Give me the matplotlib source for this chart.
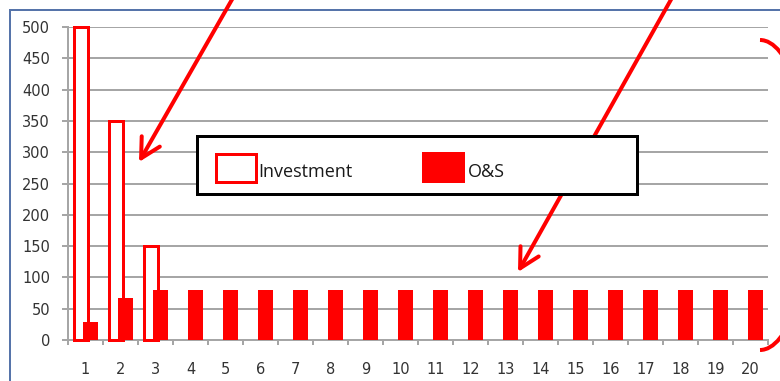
import matplotlib
matplotlib.use("Agg")
import matplotlib.pyplot as plt
from matplotlib.patches import Rectangle, FancyArrowPatch, Arc, ArrowStyle
from matplotlib.lines import Line2D
import numpy as np

# ---- data ----
categories = list(range(1, 21))
series_names = ["Investment", "O&S"]
investment = [500, 350, 150] + [0] * 17
os_costs = [28, 67, 80] + [80] * 17
y_ticks = list(range(0, 501, 50))

W, H = 780, 381
fig = plt.figure(figsize=(W / 100, H / 100), dpi=100)
fig.patch.set_facecolor("white")


def fx(px):
    return px / W


def fy(py):
    return 1 - py / H


PT = 72 / 100  # points per pixel

ax = fig.add_axes([fx(68), fy(340), fx(768) - fx(68), fy(27) - fy(340)])
x = np.array(categories, dtype=float)
inv = np.array(investment, dtype=float)
osv = np.array(os_costs, dtype=float)

mask = inv > 0
ax.bar(x[mask] - 0.13, inv[mask], width=0.38, facecolor="white",
       edgecolor="#ff0000", linewidth=3 * PT, zorder=3, clip_on=False)
ax.bar(x + 0.14, osv, width=0.42, color="#ff0000", linewidth=0, zorder=4)

ax.set_xlim(0.5, 20.5)
ax.set_ylim(0, 500)
ax.set_yticks(y_ticks)
ax.set_xticks(categories)
ax.set_xticks(np.arange(0.5, 21, 1.0), minor=True)

grid_c = "#a6a6a6"
ax.set_axisbelow(True)
ax.yaxis.grid(True, color=grid_c, linewidth=2 * PT)
for s in ["top", "right"]:
    ax.spines[s].set_visible(False)
for s in ["left", "bottom"]:
    ax.spines[s].set_color(grid_c)
    ax.spines[s].set_linewidth(2 * PT)

lab_c = "#333333"
ax.tick_params(axis="y", length=6 * PT, width=2 * PT, color=grid_c,
               pad=12 * PT, labelsize=10.5, labelcolor=lab_c)
ax.tick_params(axis="x", which="major", length=0, pad=22 * PT,
               labelsize=10.5, labelcolor=lab_c)
ax.tick_params(axis="x", which="minor", length=5 * PT, width=2 * PT,
               color=grid_c)

# ---- outer chart frame (partially visible) ----
frame_c = "#5674aa"
fig.add_artist(Line2D([fx(10), fx(10)], [fy(10), 0], color=frame_c,
                      linewidth=2 * PT, transform=fig.transFigure))
fig.add_artist(Line2D([fx(10), 1], [fy(10), fy(10)], color=frame_c,
                      linewidth=2 * PT, transform=fig.transFigure))

# ---- annotation arrows ----
style = ArrowStyle("->", head_length=14, head_width=7.5)
for (x0, y0), (x1, y1) in [((234, -4), (139, 162)), ((673, -4), (518, 272))]:
    arr = FancyArrowPatch(posA=(fx(x0), fy(y0)), posB=(fx(x1), fy(y1)),
                          transform=fig.transFigure, arrowstyle=style,
                          mutation_scale=1, linewidth=4 * PT,
                          color="#ff0000", shrinkA=0, shrinkB=0,
                          capstyle="round", joinstyle="round", zorder=2)
    fig.add_artist(arr)

# ---- bracket arc on the right ----
fig.add_artist(Arc((fx(760), fy(195)), width=104 / W, height=310 / H,
                   theta1=-90, theta2=90, transform=fig.transFigure,
                   color="#ff0000", linewidth=4 * PT, zorder=2))

# ---- legend box ----
fig.add_artist(Rectangle((fx(196.5), fy(193.5)), (636.5 - 196.5) / W,
                         (193.5 - 135.5) / H, transform=fig.transFigure,
                         facecolor="white", edgecolor="black",
                         linewidth=3 * PT, zorder=5))
fig.add_artist(Rectangle((fx(215.5), fy(181.5)), 40 / W, 28 / H,
                         transform=fig.transFigure, facecolor="white",
                         edgecolor="#ff0000", linewidth=3 * PT, zorder=6))
fig.add_artist(Rectangle((fx(422), fy(183)), 43 / W, 31 / H,
                         transform=fig.transFigure, facecolor="#ff0000",
                         edgecolor="none", zorder=6))
fig.text(fx(258), fy(177), series_names[0], fontsize=13, family="Open Sans",
         color="#1a1a1a", va="baseline", ha="left", zorder=7)
fig.text(fx(468), fy(177), series_names[1], fontsize=13, family="Open Sans",
         color="#1a1a1a", va="baseline", ha="left", zorder=7)

fig.savefig("out.png", dpi=100)
